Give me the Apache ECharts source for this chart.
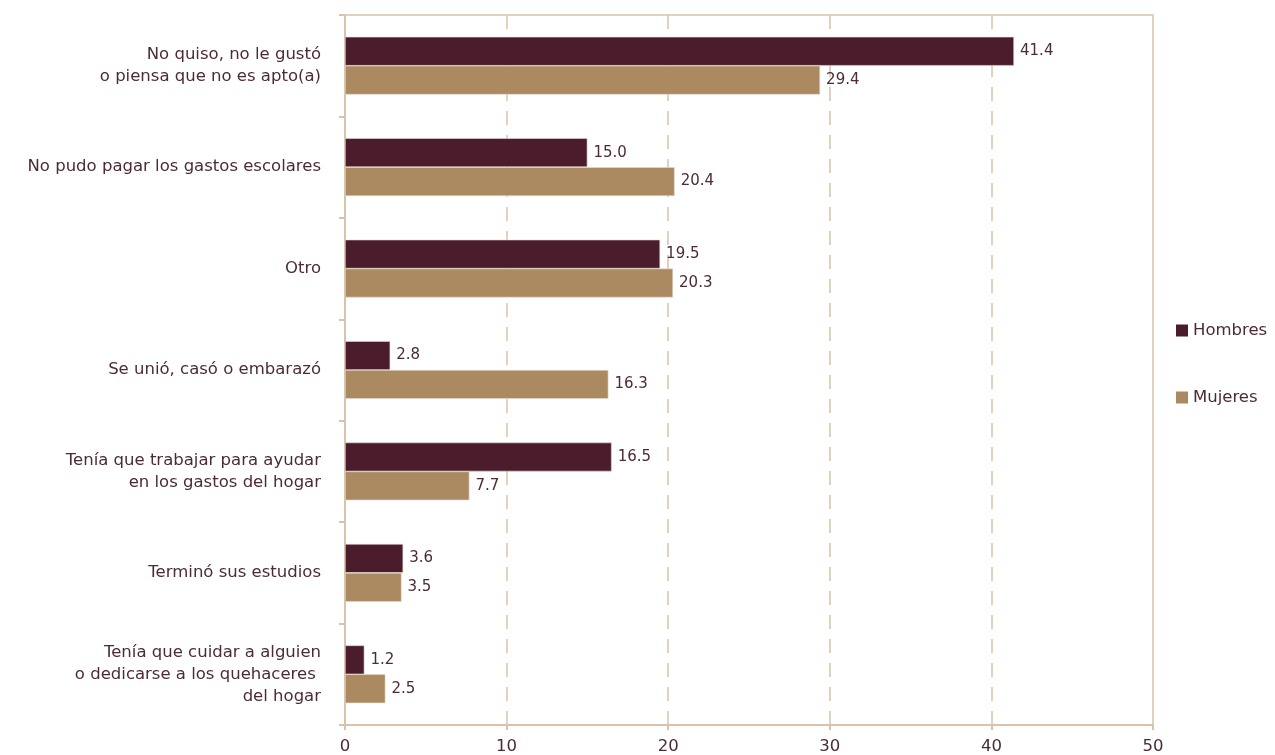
<!DOCTYPE html>
<html>
<head>
<meta charset="utf-8">
<script src="https://cdn.jsdelivr.net/npm/echarts@6/dist/echarts.min.js"></script>
<style>
  html, body { margin: 0; padding: 0; background: #fff; }
  #chart { width: 1275px; height: 755px; }
</style>
</head>
<body>
<div id="chart"></div>
<script>
// Motivos de abandono escolar, por sexo (porcentaje)
const categories = [
  'No quiso, no le gustó\no piensa que no es apto(a)',
  'No pudo pagar los gastos escolares',
  'Otro',
  'Se unió, casó o embarazó',
  'Tenía que trabajar para ayudar\nen los gastos del hogar',
  'Terminó sus estudios',
  'Tenía que cuidar a alguien\no dedicarse a los quehaceres \ndel hogar'
];
const hombres = [41.4, 15.0, 19.5, 2.8, 16.5, 3.6, 1.2];
const mujeres = [29.4, 20.4, 20.3, 16.3, 7.7, 3.5, 2.5];
const seriesNames = ['Hombres', 'Mujeres'];

const FONT = 'DejaVu Sans';
const TEXT = '#4b2b36';
const AXIS = '#d8c4aa';
const COLOR_H = '#4a1c2c';
const COLOR_M = '#ab8a62';
const NONE = 'rgba(0,0,0,0)';

const chart = echarts.init(document.getElementById('chart'));

const labelCfg = {
  show: true,
  position: 'right',
  distance: 6,
  color: TEXT,
  fontFamily: FONT,
  fontSize: 15,
  formatter: p => p.value.toFixed(1)
};

chart.setOption({
  animation: false,
  textStyle: { fontFamily: FONT },
  legend: {
    orient: 'vertical',
    left: 1171,
    top: 317,
    itemGap: 50,
    itemWidth: 12,
    itemHeight: 12,
    icon: 'rect',
    itemStyle: { borderWidth: 0 },
    textStyle: { color: TEXT, fontSize: 16.5, fontFamily: FONT },
    data: seriesNames
  },
  grid: {
    left: 345,
    right: 122,
    top: 15,
    bottom: 30,
    show: true,
    borderColor: AXIS,
    borderWidth: 1.5
  },
  xAxis: {
    type: 'value',
    min: 0,
    max: 50,
    interval: 10,
    axisLine: { show: true, lineStyle: { color: AXIS, width: 2 } },
    axisTick: { show: true, length: 5, lineStyle: { color: AXIS, width: 2 } },
    axisLabel: { color: TEXT, fontSize: 16.5, fontFamily: FONT, margin: 13 },
    // dashed guides at 10–40; the frame already covers 0 and 50
    splitLine: {
      show: true,
      lineStyle: { color: [NONE, AXIS, AXIS, AXIS, AXIS, NONE], type: [14, 10], width: 1.5 }
    }
  },
  yAxis: {
    type: 'category',
    inverse: true,
    data: categories,
    axisLine: { show: true, lineStyle: { color: AXIS, width: 2 } },
    axisTick: { show: true, length: 6, lineStyle: { color: AXIS, width: 2 } },
    axisLabel: {
      color: TEXT,
      fontSize: 16.5,
      fontFamily: FONT,
      margin: 24,
      align: 'right',
      lineHeight: 22
    }
  },
  series: [
    {
      name: seriesNames[0],
      type: 'bar',
      data: hombres,
      barGap: '0%',
      barCategoryGap: '43%',
      itemStyle: { color: COLOR_H, borderColor: '#e8dcd0', borderWidth: 0.6 },
      label: labelCfg
    },
    {
      name: seriesNames[1],
      type: 'bar',
      data: mujeres,
      barGap: '0%',
      barCategoryGap: '43%',
      itemStyle: { color: COLOR_M, borderColor: '#e8dcd0', borderWidth: 0.6 },
      label: labelCfg
    }
  ]
});
</script>
</body>
</html>
